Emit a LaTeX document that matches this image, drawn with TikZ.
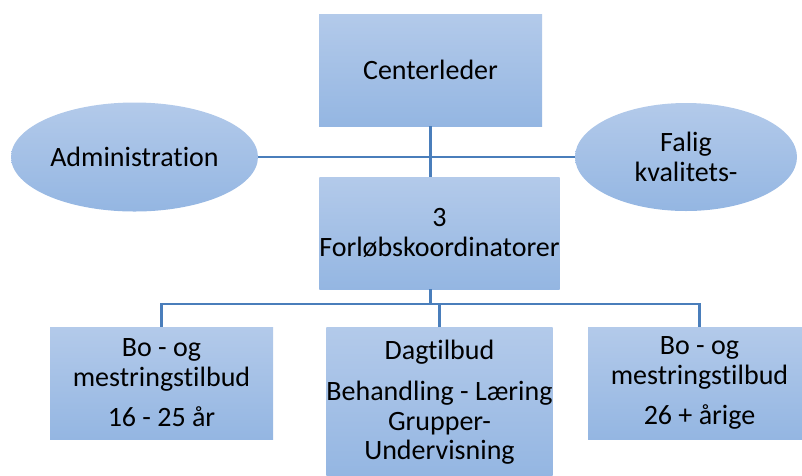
\documentclass[tikz,border=0pt]{standalone}
\usepackage{fontspec}
\setmainfont{Carlito}[Ligatures={NoCommon,NoContextual}]
\usepackage{tikz}
\usetikzlibrary{shapes.geometric,calc}
\definecolor{boxtop}{RGB}{179,202,234}
\definecolor{boxbund}{RGB}{148,182,226}
\definecolor{strek}{RGB}{74,126,187}

\begin{document}
\begin{tikzpicture}[x=1pt,y=-1pt,
		enhet/.style={rectangle,top color=boxtop,bottom color=boxbund,draw=none,minimum width=223pt,minimum height=112pt,inner sep=0pt,align=center,font=\fontsize{28}{29.5}\selectfont},
		oval/.style={ellipse,top color=boxtop,bottom color=boxbund,draw=none,inner sep=0pt,align=center,font=\fontsize{28}{29.5}\selectfont},
		linje/.style={draw=strek,line width=2.5pt}]
		\useasboundingbox (0,0) rectangle (802,475);
		\node[enhet] (leder) at (430.5,70) {Centerleder};
		\node[oval,minimum width=247pt,minimum height=109pt] (admin) at (134.5,157) {Administration};
		\node[oval,minimum width=222pt,minimum height=108pt] (falig) at (686,157) {Falig\\kvalitets-};
		\node[enhet] (forlob) at (439.5,233) {3\\Forløbskoordinatorer};
		% tre tilbud nederst
		\node[enhet] (bo1) at (161.5,383) {Bo - og\\mestringstilbud\\[11pt]16 - 25 år};
		\node[enhet,anchor=north,minimum height=150pt] (dag) at (439.5,327) {Dagtilbud\\[12pt]Behandling - Læring\\Grupper-\\Undervisning};
		\node[enhet] (bo2) at (699.5,383) {Bo - og\\mestringstilbud\\[11pt]26 + årige};
		
		\coordinate (buss) at ($(leder.south |- bo1.north)+(0,-23)$);
		\draw[linje] (admin.east) -- (falig.west);
		\draw[linje] (leder.south) -- (leder.south |- forlob.north);
		\draw[linje] (leder.south |- forlob.south) -- (buss);
		\draw[linje] (bo1.north) |- (buss) -| (bo2.north);
		\draw[linje] (dag.north) -- (dag.north |- buss);
	\end{tikzpicture}
\end{document}
